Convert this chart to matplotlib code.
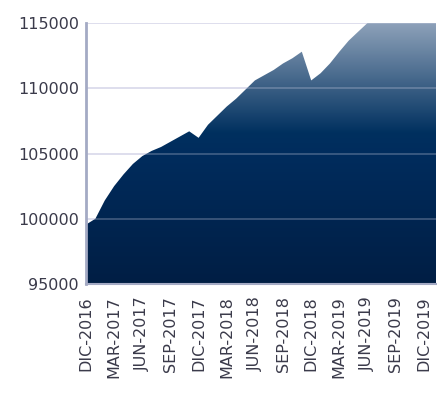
import numpy as np
import matplotlib
matplotlib.use("Agg")
import matplotlib.pyplot as plt
from matplotlib.colors import LinearSegmentedColormap

months = ["DIC-2016", "ENE-2017", "FEB-2017", "MAR-2017", "ABR-2017", "MAY-2017", "JUN-2017",
          "JUL-2017", "AGO-2017", "SEP-2017", "OCT-2017", "NOV-2017", "DIC-2017",
          "ENE-2018", "FEB-2018", "MAR-2018", "ABR-2018", "MAY-2018", "JUN-2018",
          "JUL-2018", "AGO-2018", "SEP-2018", "OCT-2018", "NOV-2018", "DIC-2018",
          "ENE-2019", "FEB-2019", "MAR-2019", "ABR-2019", "MAY-2019", "JUN-2019",
          "JUL-2019", "AGO-2019", "SEP-2019", "OCT-2019", "NOV-2019", "DIC-2019",
          "ENE-2020", "FEB-2020"]
values = [99550, 100000, 101400, 102500, 103400, 104200, 104800,
          105200, 105500, 105900, 106300, 106700, 106200,
          107200, 107900, 108600, 109200, 109900, 110600,
          111000, 111400, 111900, 112300, 112800, 110600,
          111150, 111900, 112800, 113650, 114330, 115000,
          115700, 116100, 116400, 116800, 117100, 117400,
          117700, 118000]
yticks = [95000, 100000, 105000, 110000, 115000]

x = np.arange(len(values))
tick_idx = list(range(0, 37, 3))
tick_labels = [months[i] for i in tick_idx]

fig = plt.figure(figsize=(4.37, 4.09), dpi=100)
ax = fig.add_axes([86/437, 1-284/409, 1-86/437-1/437, (284-23)/409])

ymin, ymax = 95000, 115000
xmax = 37.3
ax.set_xlim(0, xmax)
ax.set_ylim(ymin, ymax)

cmap = LinearSegmentedColormap.from_list("g", [(0.0, "#001e44"), (0.5, "#002c5d"), (0.58, "#00305f"), (1.0, "#8da1b9")])
grad = np.linspace(0, 1, 256).reshape(-1, 1)
poly = ax.fill_between(x, values, ymin, color="none", lw=0)
img = ax.imshow(grad, extent=[0, xmax, ymin, ymax], origin="lower", aspect="auto", cmap=cmap, zorder=1)
path = poly.get_paths()[0]
img.set_clip_path(path, transform=ax.transData)

for yt in yticks[1:]:
    ax.axhline(yt, color="#d8d8ea", lw=1.2, alpha=0.3, zorder=2)
    ax.plot([0, xmax], [yt, yt], color="#dcdcec", lw=1.2, zorder=0.5)

ax.set_yticks(yticks)
ax.set_yticklabels([str(v) for v in yticks])
ax.set_xticks(tick_idx)
ax.set_xticklabels(tick_labels, rotation=90)
ax.tick_params(axis="both", length=0, labelsize=11.5, colors="#3a3a4a", pad=5)
ax.tick_params(axis="x", pad=9)

for s in ["top", "right"]:
    ax.spines[s].set_visible(False)
ax.spines["left"].set_color("#a4aac4")
ax.spines["left"].set_linewidth(2)
ax.spines["bottom"].set_color("#a4aac4")
ax.spines["bottom"].set_linewidth(1.5)
ax.spines["left"].set_zorder(3)
ax.spines["bottom"].set_zorder(3)

fig.savefig("out.png", dpi=100)
